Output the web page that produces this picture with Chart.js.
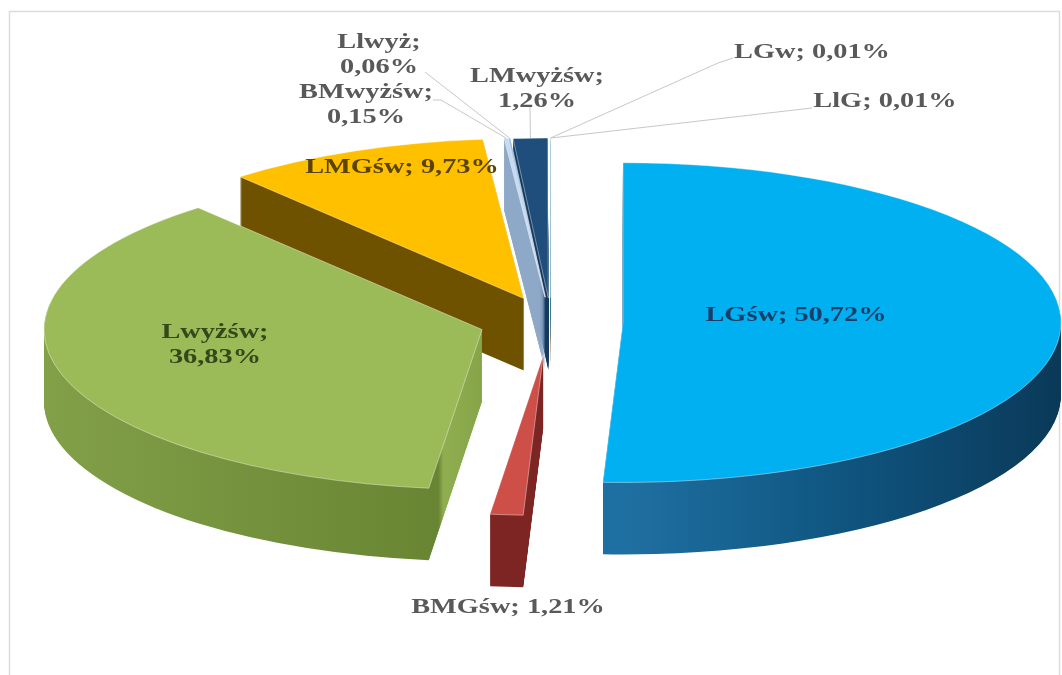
<!DOCTYPE html>
<html>
<head>
<meta charset="utf-8">
<script src="https://cdn.jsdelivr.net/npm/chart.js@4.4.1/dist/chart.umd.min.js"></script>
<style>
  html, body { margin: 0; padding: 0; background: #fff; overflow: hidden; }
  canvas { display: block; }
</style>
</head>
<body>
<canvas id="pieChart" width="1062" height="675"></canvas>
<script>
const categories = ['LGśw', 'BMGśw', 'Lwyżśw', 'LMGśw', 'BMwyżśw', 'Llwyż', 'LMwyżśw', 'LGw', 'LlG'];
const shares = [50.72, 1.21, 36.83, 9.73, 0.15, 0.06, 1.26, 0.01, 0.01];

const topColors = ['#00b0f0', '#cd4f47', '#9bbb59', '#ffc000', '#c5d9f1', '#8db3e2', '#1f4e7c', '#4bacc6', '#f79646'];
// wall shading, stops across [x - r, x + r] of each slice
const wallStops = [
  [[0.5, '#1f70a2'], [0.75, '#0f5580'], [1, '#0a3958']],
  [[0, '#7c2523'], [1, '#7c2523']],
  [[0, '#82a048'], [0.45, '#688533'], [0.456, '#8fae50'], [0.5, '#86a548']],
  [[0, '#6f5200'], [1, '#6f5200']],
  [[0, '#8ea9c8'], [1, '#8ea9c8']],
  [[0, '#5f86b4'], [1, '#5f86b4']],
  [[0, '#163a5e'], [1, '#163a5e']],
  [[0, '#2f7f95'], [1, '#2f7f95']],
  [[0, '#b86d2c'], [1, '#b86d2c']]
];
const explode = [72, 92, 72, 70, 68, 68, 66, 66, 66];
const labelInk = ['#173f6a', '#595959', '#33491a', '#5a4400', '#595959', '#595959', '#595959', '#595959', '#595959'];

// label layout: centre of first line, whether value goes on a second line, leader start
const labelSpots = [
  { x: 796, y: 316, wrap: false },
  { x: 508, y: 608, wrap: false },
  { x: 215, y: 333, wrap: true },
  { x: 402, y: 168, wrap: false },
  { x: 366, y: 93, wrap: true, lead: [[433, 100], [441, 100]] },
  { x: 379, y: 43, wrap: true, lead: [[425, 72]] },
  { x: 537, y: 77, wrap: true, lead: [[530, 107]] },
  { x: 812, y: 53, wrap: false, lead: [[733, 58], [718, 63]] },
  { x: 885, y: 102, wrap: false, lead: [[812, 108]] }
];

const TILT = 0.365;   // vertical squash of the disc
const DEPTH = 72;     // wall height on screen
const CENTER_Y = 322; // screen y of the disc centre
const STRETCH = 1.35; // horizontal widening of the label type

const fmt = (v) => v.toFixed(2).replace('.', ',') + '%';
const mid = (arc) => (arc.startAngle + arc.endAngle) / 2;

function toScreen(arc, i, angle, r) {
  const h = mid(arc);
  const x = arc.x + Math.cos(h) * explode[i] + Math.cos(angle) * r;
  const y = arc.y + Math.sin(h) * explode[i] + Math.sin(angle) * r;
  return [x, CENTER_Y + (y - arc.y) * TILT];
}

function wallFill(ctx, arc, i) {
  const r = arc.outerRadius;
  const g = ctx.createLinearGradient(arc.x - r, 0, arc.x + r, 0);
  wallStops[i].forEach(([p, c]) => g.addColorStop(p, c));
  return g;
}

function stretchedText(ctx, text, x, y) {
  ctx.save();
  ctx.translate(x, y);
  ctx.scale(STRETCH, 1);
  ctx.fillText(text, 0, 0);
  ctx.restore();
}

const pie3d = {
  id: 'pie3d',
  beforeDraw(chart) {
    const ctx = chart.ctx;
    ctx.save();
    ctx.fillStyle = '#ffffff';
    ctx.fillRect(0, 0, chart.width, chart.height);
    ctx.strokeStyle = '#dcdcdc';
    ctx.lineWidth = 1.5;
    ctx.strokeRect(9.5, 11.5, 1050, 700);
    ctx.restore();
  },
  beforeDatasetsDraw(chart) {
    const ctx = chart.ctx;
    const arcs = chart.getDatasetMeta(0).data;
    const cy = arcs[0].y;
    // back slices first, front slices last
    const order = arcs.map((a, i) => i).sort((a, b) => Math.sin(mid(arcs[a])) - Math.sin(mid(arcs[b])));
    ctx.save();
    ctx.translate(0, CENTER_Y);
    ctx.scale(1, TILT);
    ctx.translate(0, -cy);
    order.forEach((i) => {
      const arc = arcs[i];
      const h = mid(arc);
      ctx.save();
      ctx.translate(Math.cos(h) * explode[i], Math.sin(h) * explode[i]);
      const wall = Object.create(arc);
      wall.options = Object.assign({}, arc.options, {
        backgroundColor: wallFill(ctx, arc, i),
        borderWidth: 0
      });
      for (let d = DEPTH; d > 0; d--) {
        ctx.save();
        ctx.translate(0, d / TILT);
        wall.draw(ctx);
        ctx.restore();
      }
      arc.draw(ctx);
      ctx.restore();
    });
    ctx.restore();
    return false;
  },
  afterDraw(chart) {
    const ctx = chart.ctx;
    const arcs = chart.getDatasetMeta(0).data;
    ctx.save();
    ctx.font = 'bold 21px "Liberation Serif", "DejaVu Serif", serif';
    ctx.textAlign = 'center';
    ctx.textBaseline = 'middle';
    labelSpots.forEach((spot, i) => {
      const arc = arcs[i];
      if (spot.lead) {
        const end = toScreen(arc, i, mid(arc), arc.outerRadius);
        ctx.strokeStyle = '#c8c8c8';
        ctx.lineWidth = 1;
        ctx.beginPath();
        ctx.moveTo(spot.lead[0][0], spot.lead[0][1]);
        spot.lead.slice(1).forEach(([x, y]) => ctx.lineTo(x, y));
        ctx.lineTo(end[0], end[1]);
        ctx.stroke();
      }
      ctx.fillStyle = labelInk[i];
      const name = categories[i] + ';';
      const value = fmt(shares[i]);
      if (spot.wrap) {
        stretchedText(ctx, name, spot.x, spot.y);
        stretchedText(ctx, value, spot.x, spot.y + 25);
      } else {
        stretchedText(ctx, name + ' ' + value, spot.x, spot.y);
      }
    });
    ctx.restore();
  }
};

new Chart(document.getElementById('pieChart'), {
  type: 'pie',
  data: {
    labels: categories,
    datasets: [{
      data: shares,
      backgroundColor: topColors,
      borderColor: 'rgba(255,255,255,0.6)',
      borderWidth: 1,
      offset: 0,
      radius: 438,
      clip: false
    }]
  },
  options: {
    responsive: false,
    animation: false,
    events: [],
    layout: { padding: { left: 40 } },
    plugins: {
      legend: { display: false },
      tooltip: { enabled: false }
    }
  },
  plugins: [pie3d]
});
</script>
</body>
</html>
